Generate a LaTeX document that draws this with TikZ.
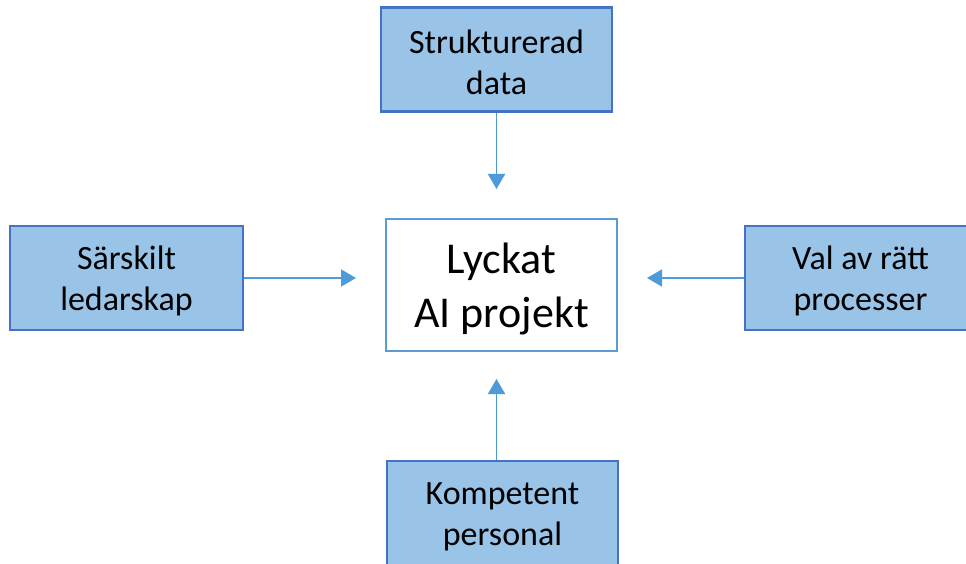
\documentclass[tikz,border=0pt]{standalone}
\usepackage{fontspec}
\setmainfont{Carlito}
\usetikzlibrary{arrows.meta}
\definecolor{boxfill}{HTML}{99C4E8}
\definecolor{boxline}{HTML}{4472C4}
\definecolor{arrowblue}{HTML}{4E9BDA}
\definecolor{goalline}{HTML}{5B9BD5}
\newcommand{\dropstrut}{\rule{0pt}{0.86em}}
\tikzset{
  factor/.style={draw=boxline, fill=boxfill, line width=2.8pt, inner sep=0pt,
    minimum width=231pt, minimum height=104pt, align=center,
    font=\fontsize{34}{41.5}\selectfont},
  goal/.style={draw=goalline, fill=white, line width=2.5pt, inner sep=0pt,
    minimum width=231pt, minimum height=132pt, align=center,
    font=\fontsize{44}{53.7}\selectfont},
  conn/.style={draw=arrowblue, line width=1.8pt,
    -{Triangle[width=17pt,length=15pt]}}
}
\begin{document}
\begin{tikzpicture}[x=1pt,y=-1pt]
\useasboundingbox (0,0) rectangle (966,564);
\clip (0,0) rectangle (966,564);
\node[goal] (goal) at (501.5,285) {\dropstrut Lyckat\\AI projekt};
\node[factor] (top) at (496.5,59.5) {\dropstrut Strukturerad\\data};
\node[factor, minimum width=233pt] (left) at (126.5,278) {\dropstrut Särskilt\\ledarskap};
\node[factor] (right) at (860.5,278) {\dropstrut Val av rätt\\processer};
\node[factor] (bot) at (502.5,513) {\dropstrut Kompetent\\personal};
\coordinate (toptip) at (496.5,189);
\coordinate (bottip) at (496.5,379);
\coordinate (lefttip) at (356,278);
\coordinate (righttip) at (647,278);
\draw[conn] (top.south) -- (toptip);
\draw[conn] (bot.north -| bottip) -- (bottip);
\draw[conn] (left.east) -- (lefttip);
\draw[conn] (right.west) -- (righttip);
\end{tikzpicture}
\end{document}
